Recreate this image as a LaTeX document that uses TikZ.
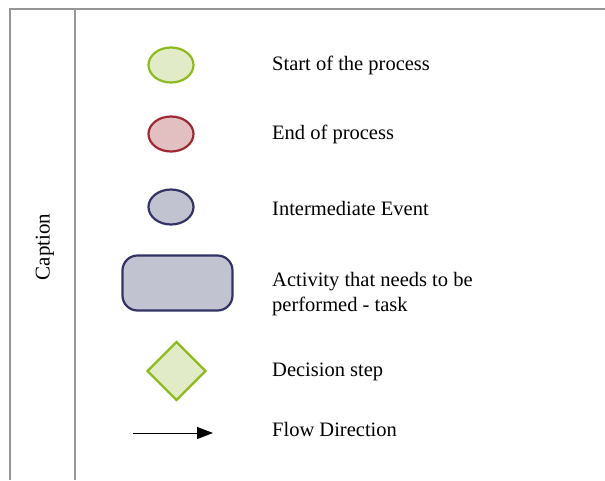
\documentclass[tikz,border=0pt]{standalone}
\usepackage{fontspec}
\setmainfont{Liberation Serif}
\usetikzlibrary{shapes.geometric,arrows.meta}
\definecolor{startline}{RGB}{141,187,30}
\definecolor{startfill}{RGB}{226,235,200}
\definecolor{endline}{RGB}{160,40,50}
\definecolor{endfill}{RGB}{226,192,194}
\definecolor{midline}{RGB}{50,50,100}
\definecolor{midfill}{RGB}{193,195,208}
\definecolor{rule}{RGB}{150,150,150}
\tikzset{
  event/.style={ellipse,line width=2.2pt,minimum width=45pt,minimum height=35pt,inner sep=0pt},
  label/.style={anchor=west,align=left,font=\fontsize{20.5}{25}\selectfont,inner sep=0pt},
  rulethin/.style={draw=rule,line width=1.5pt},
  rulethick/.style={draw=rule,line width=2.5pt}
}
\begin{document}
\begin{tikzpicture}[x=1pt,y=-1pt]
\useasboundingbox (0,0) rectangle (605,480);
\draw[rulethin] (10,480) -- (10,9) -- (605,9);
\draw[rulethick] (75,9) -- (75,480);
\node[rotate=90,font=\fontsize{21}{24}\selectfont] (caption) at (45,247) {Caption};
% symbols
\node[event,draw=startline,fill=startfill] (start) at (171,65) {};
\node[event,draw=endline,fill=endfill] (end) at (171,134) {};
\node[event,draw=midline,fill=midfill] (mid) at (171,207) {};
\node[draw=midline,fill=midfill,line width=2.2pt,rounded corners=15pt,minimum width=110pt,minimum height=55pt] (task) at (177.5,283) {};
\node[diamond,draw=startline,fill=startfill,line width=2.2pt,minimum width=59pt,minimum height=59pt,inner sep=0pt] (decision) at (176.5,371) {};
\coordinate (from) at (133,433);
\coordinate (to) at (213,433);
\draw[-{Triangle[length=16pt,width=12pt]},line width=1pt] (from) -- (to);
% texts
\node[label] (starttext) at (272,65.5) {Start of the process};
\node[label] (endtext) at (272,134) {End of process};
\node[label] (midtext) at (272,208.5) {Intermediate Event};
\node[label] (tasktext) at (272,294) {Activity that needs to be\\performed - task};
\node[label] (decisiontext) at (272,371.5) {Decision step};
\node[label] (flowtext) at (272,429.5) {Flow Direction};
\end{tikzpicture}
\end{document}
